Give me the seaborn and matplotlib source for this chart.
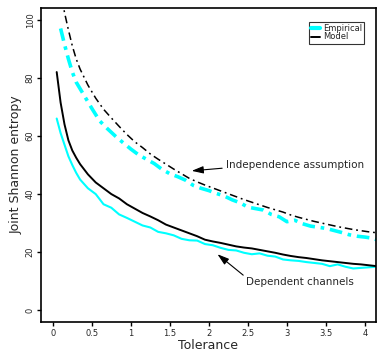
import numpy as np
import pandas as pd
import matplotlib
matplotlib.use("Agg")
import matplotlib.pyplot as plt
from matplotlib.lines import Line2D
import seaborn as sns

# Shared tolerance grid for model curves and empirical dependent curve
tol = [0.05, 0.1, 0.15, 0.2, 0.25, 0.3, 0.35, 0.45, 0.55, 0.65, 0.75, 0.85, 0.95,
       1.05, 1.15, 1.25, 1.35, 1.45, 1.55, 1.65, 1.75, 1.85, 1.95,
       2.05, 2.15, 2.25, 2.35, 2.45, 2.55, 2.65, 2.75, 2.85, 2.95,
       3.05, 3.15, 3.25, 3.35, 3.45, 3.55, 3.65, 3.75, 3.85, 3.95,
       4.05, 4.15]

model_dep = [82, 71.5, 64, 58.5, 55, 52.5, 50.3, 46.8, 44, 42, 40, 38.5, 36.5,
             35, 33.5, 32.3, 31, 29.5, 28.5, 27.5, 26.5, 25.5, 24.3,
             23.7, 23.2, 22.6, 22, 21.6, 21.3, 20.8, 20.3, 19.8, 19.2,
             18.7, 18.3, 18, 17.6, 17.2, 16.9, 16.6, 16.3, 16.0, 15.8,
             15.5, 15.2]

emp_dep = [66, 61, 57, 53, 50, 47.3, 45, 42, 40, 36.5, 35.3, 33, 31.8,
           30.5, 29.2, 28.5, 27, 26.5, 25.8, 24.6, 24.1, 24, 22.8,
           22.4, 21.5, 20.8, 20.6, 19.8, 19.3, 19.6, 18.8, 18.5, 17.5,
           17.2, 17.0, 16.6, 16.3, 16.0, 15.2, 15.8, 15.0, 14.4, 14.6,
           14.8, 15.0]

model_ind = [125, 110, 102.5, 96.5, 91, 86.5, 83, 77.5, 73, 69.2, 66.2, 63.3, 60.5,
             58, 56, 53.8, 52, 50.3, 48.6, 47, 45.4, 44.2, 43.1,
             42.1, 41.1, 40.1, 39.1, 38.1, 37.2, 36.3, 35.4, 34.6, 33.8,
             32.8, 32, 31.3, 30.6, 30, 29.4, 28.8, 28.3, 27.8, 27.4,
             27, 26.7]

tol_emp_ind = [0.1, 0.15, 0.2, 0.25, 0.3, 0.4, 0.5, 0.6, 0.7, 0.8, 0.9, 1.0,
               1.1, 1.2, 1.3, 1.4, 1.5, 1.6, 1.7, 1.8, 1.9, 2.0,
               2.1, 2.2, 2.3, 2.4, 2.5, 2.6, 2.7, 2.8, 2.9, 3.0,
               3.1, 3.2, 3.3, 3.4, 3.5, 3.6, 3.7, 3.8, 3.9, 4.0,
               4.1, 4.15]
emp_ind = [97, 91.5, 86.5, 82, 78.5, 74, 69.5, 65.2, 62.5, 60, 57.7, 55.5,
           53.5, 52, 50.5, 48.5, 47, 46, 44.8, 43, 42, 41.2,
           40.2, 39.3, 38, 37, 35.5, 35, 34.5, 33, 32.2, 30.5,
           31, 29.8, 29, 28.6, 28.2, 27.5, 26.8, 26, 25.5, 25.2,
           24.8, 24.3]

xticks = [0, 0.5, 1, 1.5, 2, 2.5, 3, 3.5, 4]
xtick_labels = ["0", "0.5", "1", "1.5", "2", "2.5", "3", "3.5", "4"]
yticks = [0, 20, 40, 60, 80, 100]
ytick_labels = ["0", "20", "40", "60", "80", "100"]

sns.set_style("ticks")
plt.rcParams['font.family'] = ['DejaVu Sans']

fig = plt.figure(figsize=(3.77, 3.53), dpi=100)
ax = fig.add_axes([0.109, 0.088, 0.888, 0.889])

cyan = "#00FFFF"
sns.lineplot(x=tol, y=model_ind, ax=ax, color="black", lw=1.1, estimator=None)
ax.lines[-1].set_dashes([5, 2.5, 1.2, 2.5])
sns.lineplot(x=tol_emp_ind, y=emp_ind, ax=ax, color=cyan, lw=2.6, estimator=None)
ax.lines[-1].set_dashes([3.5, 1.6, 1, 1.6])
sns.lineplot(x=tol, y=emp_dep, ax=ax, color=cyan, lw=1.5, estimator=None)
sns.lineplot(x=tol, y=model_dep, ax=ax, color="black", lw=1.4, estimator=None)

ax.set_xlim(-0.15, 4.14)
ax.set_ylim(-4, 104)
ax.set_xticks(xticks)
ax.set_xticklabels(xtick_labels)
ax.set_yticks(yticks)
ax.set_yticklabels(ytick_labels, rotation=90, va="center")
ax.tick_params(axis="both", labelsize=6, length=3, width=1, pad=2,
               direction="out", color="black")
ax.tick_params(axis="y", pad=1.5)
for s in ax.spines.values():
    s.set_visible(True)
    s.set_linewidth(1.2)
    s.set_color("black")

ax.set_xlabel("Tolerance", fontsize=9, labelpad=1)
ax.set_ylabel("Joint Shannon entropy", fontsize=9, labelpad=2)

arrow = dict(arrowstyle="-|>,head_length=0.7,head_width=0.22", color="black", lw=0.8,
             shrinkA=0, shrinkB=0)
ax.annotate("", xy=(1.78, 48.0), xytext=(2.17, 48.9), arrowprops=arrow)
ax.text(2.22, 50.0, "Independence assumption", fontsize=7.5, va="center", ha="left")
ax.annotate("", xy=(2.11, 19.3), xytext=(2.44, 12.1), arrowprops=arrow)
ax.text(2.47, 9.8, "Dependent channels", fontsize=7.5, va="center", ha="left")

handles = [Line2D([0], [0], color=cyan, lw=3),
           Line2D([0], [0], color="black", lw=1.4)]
leg = ax.legend(handles, ["Empirical", "Model"], loc="upper right",
                bbox_to_anchor=(0.965, 0.955), fontsize=6, frameon=True,
                fancybox=False, handlelength=1.0, handletextpad=0.4,
                labelspacing=-0.1, borderpad=0.25, borderaxespad=0)
leg.get_frame().set_edgecolor("black")
leg.get_frame().set_linewidth(0.8)

fig.savefig("out.png", dpi=100)
